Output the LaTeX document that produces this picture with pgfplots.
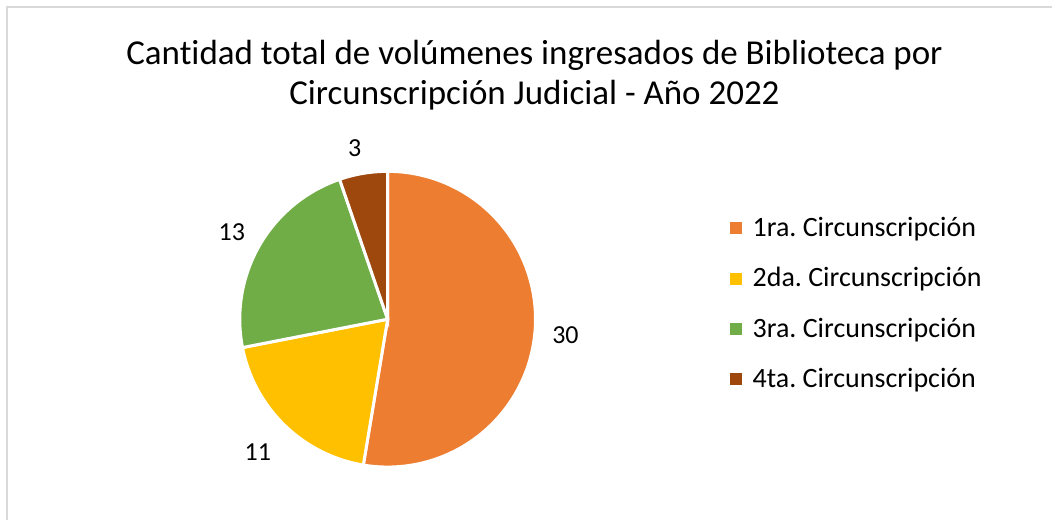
\documentclass[border=0pt]{standalone}
\usepackage{pgfplots}
\pgfplotsset{compat=1.18}
\usepackage{fontspec}
\setmainfont{Carlito}[Ligatures=NoCommon]
\frenchspacing
\definecolor{c1}{HTML}{ED7D31}
\definecolor{c2}{HTML}{FFC000}
\definecolor{c3}{HTML}{70AD47}
\definecolor{c4}{HTML}{9E480E}
\definecolor{frame}{HTML}{D9D9D9}
\begin{document}
\begin{tikzpicture}
\begin{axis}[x=0.5pt,y=0.5pt,xmin=0,xmax=1053,ymin=0,ymax=520,
  hide axis,clip=false,
  legend cell align=left,
  legend image code/.code={\fill[#1,draw=none] (0pt,-3pt) rectangle (6pt,3pt);},
  legend style={draw=none, fill=none, at={(axis cs:724,216)}, anchor=west,
    font=\fontsize{14}{16}\selectfont, row sep=10pt,
    /tikz/every odd column/.style={column sep=3.5pt}},
  every axis plot/.append style={draw=white, line width=1.5pt, samples=120}]
% values: 30, 11, 13, 3 (total 57), clockwise from 12 o'clock
\addplot[fill=c1, domain={90-360*30/57}:90] ({388+148*cos(x)},{200.5+148*sin(x)}) -- (axis cs:388,200.5) -- cycle;
\addlegendentry{1ra. Circunscripción}
\addplot[fill=c2, domain={90-360*41/57}:{90-360*30/57}] ({388+148*cos(x)},{200.5+148*sin(x)}) -- (axis cs:388,200.5) -- cycle;
\addlegendentry{2da. Circunscripción}
\addplot[fill=c3, domain={90-360*54/57}:{90-360*41/57}] ({388+148*cos(x)},{200.5+148*sin(x)}) -- (axis cs:388,200.5) -- cycle;
\addlegendentry{3ra. Circunscripción}
\addplot[fill=c4, domain={90-360*57/57}:{90-360*54/57}] ({388+148*cos(x)},{200.5+148*sin(x)}) -- (axis cs:388,200.5) -- cycle;
\addlegendentry{4ta. Circunscripción}
\path (axis cs:0,0) rectangle (axis cs:1053,520);
\draw[frame, line width=1pt] (axis cs:7,0) -- (axis cs:7,513) -- (axis cs:1053,513);
\node[font=\fontsize{17.5}{20}\selectfont, align=center] at (axis cs:535,445)
  {Cantidad total de volúmenes ingresados de Biblioteca por\\ Circunscripción Judicial - Año 2022};
\node[font=\fontsize{13}{15}\selectfont] at (axis cs:566,185) {30};
\node[font=\fontsize{13}{15}\selectfont] at (axis cs:258,67) {11};
\node[font=\fontsize{13}{15}\selectfont] at (axis cs:232,288) {13};
\node[font=\fontsize{13}{15}\selectfont] at (axis cs:355,372) {3};
\end{axis}
\end{tikzpicture}
\end{document}
